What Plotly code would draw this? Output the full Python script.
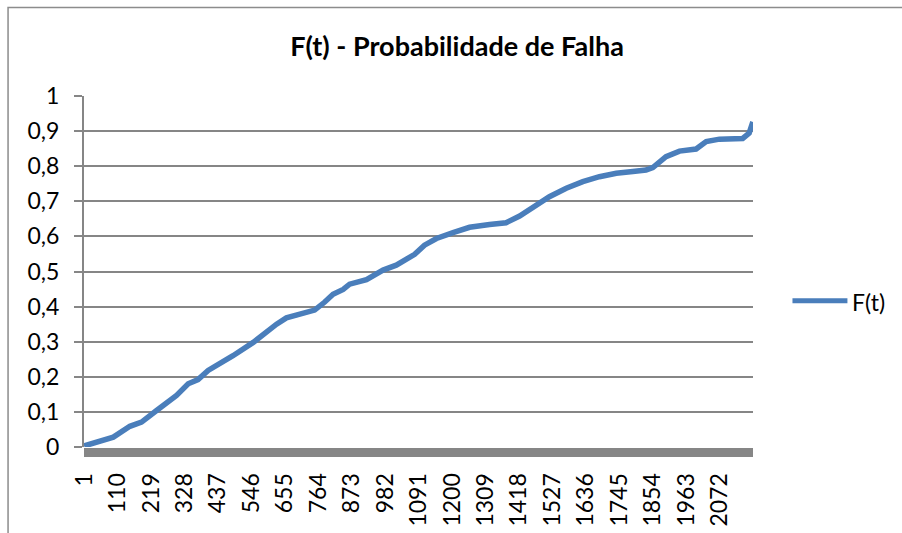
import plotly.graph_objects as go

# Failure probability F(t) sampled at observation index (1..N)
n_obs = 2180
obs_index = [1, 96, 150, 188, 237, 302, 340, 372, 405, 443, 486, 552, 579, 628, 660,
             704, 752, 785, 812, 845, 866, 921, 975, 1018, 1078, 1110, 1149, 1203,
             1257, 1322, 1376, 1420, 1463, 1517, 1572, 1626, 1680, 1735, 1789, 1832,
             1854, 1897, 1941, 1995, 2028, 2071, 2147, 2168, 2180]
f_t = [0.003, 0.028, 0.059, 0.071, 0.104, 0.147, 0.180, 0.192, 0.218, 0.237, 0.260,
       0.298, 0.317, 0.350, 0.368, 0.378, 0.390, 0.413, 0.435, 0.449, 0.464, 0.477,
       0.504, 0.518, 0.549, 0.575, 0.594, 0.611, 0.626, 0.634, 0.639, 0.658, 0.683,
       0.713, 0.737, 0.756, 0.770, 0.780, 0.785, 0.789, 0.796, 0.827, 0.843, 0.849,
       0.870, 0.877, 0.879, 0.894, 0.926]

x_tick_labels = [str(v) for v in range(1, n_obs + 1, 109)]
y_tick_vals = [i / 10 for i in range(11)]
y_tick_labels = ["0", "0,1", "0,2", "0,3", "0,4", "0,5", "0,6", "0,7", "0,8", "0,9", "1"]

LINE_COLOR = "#4A7EBB"
AXIS_GRAY = "#868686"
FONT = "Lato"

W, H = 902, 533
L, R, T, B = 84, 148.5, 96, 86
pw, ph = W - L - R, H - T - B


def px_x(px):
    return (px - L) / pw


def px_y(py):
    return (H - B - py) / ph


fig = go.Figure()
fig.add_trace(go.Scatter(
    x=obs_index, y=f_t, mode="lines", name="F(t)",
    line=dict(color=LINE_COLOR, width=5.5),
    showlegend=False,
))

fig.update_layout(
    width=W, height=H,
    margin=dict(l=L, r=R, t=T, b=B, pad=0, autoexpand=False),
    paper_bgcolor="white", plot_bgcolor="white",
    font=dict(family=FONT, color="black", size=23),
    separators=", ",
    title=dict(text="<b>F(t) - Probabilidade de Falha</b>",
               font=dict(family=FONT, size=27, color="black"),
               x=457 / W, xanchor="center", y=1 - 47 / H, yanchor="middle",
               automargin=False),
    xaxis=dict(
        range=[0.5, n_obs + 0.5],
        automargin=False,
        tickmode="array",
        tickvals=[int(t) for t in x_tick_labels],
        ticktext=x_tick_labels,
        tickangle=-90,
        ticks="outside", ticklen=9, tickwidth=1, tickcolor=AXIS_GRAY,
        minor=dict(tickmode="linear", tick0=0.5, dtick=3, ticks="outside",
                   ticklen=9, tickwidth=1.2, tickcolor=AXIS_GRAY, showgrid=False),
        showgrid=False, zeroline=False, showline=False,
        tickfont=dict(family=FONT, size=23, color="black"),
        ticklabelstandoff=7,
    ),
    yaxis=dict(
        range=[0, 1],
        automargin=False,
        tickmode="array",
        tickvals=y_tick_vals,
        ticktext=y_tick_labels,
        ticks="outside", ticklen=8, tickwidth=2, tickcolor=AXIS_GRAY,
        showgrid=True, gridcolor="#868686", gridwidth=2,
        zeroline=False,
        showline=True, linecolor=AXIS_GRAY, linewidth=2,
        tickfont=dict(family=FONT, size=23, color="black"),
        ticklabelstandoff=10,
    ),
)

# Chart area frame
fig.add_shape(type="rect", xref="paper", yref="paper",
              x0=px_x(8), x1=px_x(915), y0=px_y(545), y1=px_y(7.5),
              line=dict(color="#8c8c8c", width=1.5), fillcolor="rgba(0,0,0,0)",
              layer="below")

# Legend key
fig.add_shape(type="line", xref="paper", yref="paper",
              x0=px_x(793), x1=px_x(848), y0=px_y(300.7), y1=px_y(300.7),
              line=dict(color=LINE_COLOR, width=5))
fig.add_annotation(text="F(t)", xref="paper", yref="paper",
                   x=px_x(851), y=px_y(302), xanchor="left", yanchor="middle",
                   showarrow=False, font=dict(family=FONT, size=23, color="black"))

fig.write_html("out.html")
